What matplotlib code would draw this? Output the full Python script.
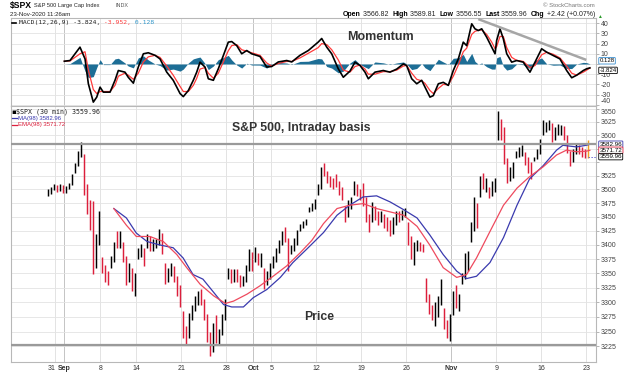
import matplotlib
matplotlib.use("Agg")
import matplotlib.pyplot as plt
from matplotlib.lines import Line2D
from matplotlib.ticker import FixedLocator, FixedFormatter, NullLocator
import numpy as np

plt.rcParams["font.family"] = ["Liberation Sans", "DejaVu Sans"]

# ---- price bars: 3 sub-bars per session, first session Aug 28 (day -1) ----
bar_hi = [3500, 3505, 3510,  3508, 3510, 3507,  3506, 3512, 3528,  3548, 3570, 3588,  3564, 3510, 3480,  3479, 3420, 3460,
          3379, 3365, 3355,  3380, 3405, 3424,  3425, 3405, 3380,  3368, 3360, 3350,
          3395, 3402, 3395,  3419, 3415, 3410,  3410, 3428, 3422,  3369, 3360, 3368,  3363, 3345, 3330,
          3285, 3260, 3282,  3295, 3310, 3320,  3323, 3305, 3280,  3250, 3265, 3278,  3255, 3280, 3306,
          3360, 3358, 3357,  3357, 3348, 3345,  3365, 3393, 3388,  3397, 3385, 3385,  3360, 3355, 3369,
          3380, 3395, 3409,  3425, 3432, 3412,  3400, 3412, 3426,  3438, 3442, 3447,  3468, 3475, 3482,
          3510, 3540, 3549,  3534, 3525, 3520,  3528, 3515, 3505,  3470, 3480, 3486,  3515, 3510, 3500,
          3512, 3485, 3455,  3476, 3470, 3460,  3461, 3455, 3450,  3445, 3450, 3460,  3460, 3462, 3466,
          3441, 3415, 3405,  3409, 3405, 3402,  3342, 3315, 3295,  3300, 3310, 3341,  3290, 3270, 3280,
          3320, 3330, 3315,  3350, 3385, 3389,  3440, 3486, 3475,  3525, 3529, 3520,  3505, 3515, 3521,
          3645, 3630, 3615,  3557, 3540, 3550,  3570, 3578, 3581,  3569, 3560, 3550,  3560, 3575, 3593,
          3628, 3625, 3628,  3623, 3615, 3620,  3619, 3618, 3600,  3570, 3575, 3585,  3581, 3578, 3575,
          3590]
bar_lo = [3488, 3492, 3498,  3495, 3496, 3493,  3494, 3500, 3508,  3530, 3543, 3560,  3490, 3455, 3427,  3349, 3360, 3400,
          3350, 3335, 3329,  3360, 3370, 3395,  3395, 3370, 3329,  3335, 3320, 3310,
          3375, 3378, 3363,  3395, 3390, 3389,  3395, 3400, 3384,  3331, 3335, 3345,  3335, 3310, 3292,
          3240, 3229, 3240,  3270, 3285, 3295,  3295, 3270, 3232,  3209, 3215, 3230,  3228, 3245, 3270,
          3340, 3333, 3335,  3335, 3327, 3328,  3335, 3355, 3355,  3370, 3365, 3361,  3323, 3330, 3340,
          3360, 3370, 3385,  3400, 3405, 3354,  3384, 3390, 3400,  3425, 3430, 3435,  3458, 3460, 3465,
          3489, 3500, 3525,  3512, 3505, 3500,  3505, 3490, 3481,  3441, 3450, 3465,  3490, 3488, 3480,
          3470, 3440, 3423,  3440, 3445, 3435,  3440, 3430, 3425,  3416, 3420, 3435,  3441, 3445, 3450,
          3400, 3375, 3364,  3390, 3390, 3388,  3300, 3280, 3269,  3259, 3275, 3295,  3255, 3240, 3234,
          3279, 3290, 3285,  3332, 3340, 3355,  3405, 3425, 3430,  3485, 3500, 3495,  3484, 3488, 3495,
          3590, 3590, 3547,  3511, 3515, 3520,  3557, 3560, 3562,  3545, 3530, 3518,  3552, 3555, 3565,
          3600, 3605, 3610,  3588, 3590, 3600,  3600, 3590, 3567,  3543, 3550, 3565,  3565, 3560, 3557,
          3557]
bar_cl = [3495, 3502, 3508,  3500, 3505, 3500,  3503, 3510, 3526,  3545, 3566, 3580,  3500, 3470, 3455,  3370, 3410, 3427,
          3355, 3345, 3331,  3375, 3400, 3398,  3400, 3375, 3339,  3350, 3330, 3341,
          3385, 3390, 3383,  3405, 3400, 3401,  3405, 3420, 3385,  3345, 3350, 3357,  3340, 3320, 3319,
          3250, 3245, 3281,  3290, 3300, 3315,  3300, 3275, 3237,  3225, 3255, 3246,  3250, 3275, 3298,
          3350, 3345, 3351,  3340, 3335, 3335,  3360, 3385, 3363,  3380, 3372, 3380,  3340, 3345, 3348,
          3375, 3390, 3408,  3420, 3410, 3361,  3395, 3405, 3419,  3435, 3440, 3446,  3462, 3472, 3477,
          3505, 3535, 3534,  3520, 3515, 3512,  3510, 3500, 3489,  3455, 3475, 3483,  3505, 3495, 3483,
          3480, 3450, 3427,  3465, 3450, 3443,  3450, 3440, 3436,  3425, 3440, 3453,  3450, 3455, 3465,
          3410, 3390, 3400,  3400, 3395, 3391,  3310, 3290, 3271,  3280, 3300, 3310,  3265, 3250, 3270,
          3300, 3295, 3310,  3345, 3370, 3370,  3430, 3470, 3443,  3510, 3505, 3510,  3490, 3505, 3510,
          3625, 3610, 3550,  3520, 3530, 3545,  3565, 3570, 3573,  3550, 3545, 3537,  3558, 3570, 3585,
          3615, 3620, 3627,  3600, 3610, 3610,  3615, 3595, 3567,  3555, 3570, 3582,  3575, 3570, 3558,
          3559.96]

# ---- moving averages (trading-day positions, Aug 31 = 0) ----
ma_t = [6.5, 7.9, 9.0, 10.2, 11.6, 13.1, 14.2, 15.3, 16.4, 17.6, 18.7, 19.6, 20.9, 22.0, 23.5, 25.0, 26.4, 27.9,
        29.8, 31.3, 32.7, 34.2, 35.7, 37.2, 38.7, 40.2, 41.6, 43.1, 44.6, 45.7, 46.8, 48.3, 49.8, 51.3, 52.7,
        54.2, 55.7, 56.4, 57.9, 59.0, 59.4]
ma_v = [3465, 3448, 3421, 3406, 3400, 3395, 3377, 3348, 3340, 3317, 3296, 3292, 3292, 3308, 3322, 3343, 3369, 3392,
        3422, 3453, 3471, 3486, 3488, 3477, 3463, 3448, 3418, 3383, 3354, 3341, 3345, 3369, 3413, 3471, 3519,
        3543, 3572, 3581, 3578, 3581, 3582.96]
ema_t = [6.5, 7.9, 9.0, 10.5, 12.0, 13.5, 14.6, 16.1, 17.6, 18.9, 19.8, 21.3, 22.7, 24.2, 25.7, 27.2, 28.5, 29.8,
         31.3, 32.7, 34.2, 35.7, 37.2, 38.7, 40.2, 41.6, 43.1, 44.6, 45.7, 46.8, 48.3, 49.8, 51.3, 52.7, 54.2,
         55.7, 56.8, 57.9, 59.0, 59.4]
ema_v = [3465, 3435, 3415, 3415, 3406, 3383, 3360, 3331, 3311, 3298, 3302, 3314, 3328, 3345, 3363, 3386, 3408, 3438,
         3465, 3471, 3474, 3465, 3459, 3453, 3433, 3400, 3360, 3343, 3348, 3377, 3424, 3471, 3502, 3523, 3541,
         3563, 3572, 3569, 3570, 3571.72]

# ---- MACD(12,26,9) ----
macd_t = [1.0, 1.63, 2.74, 3.3, 3.67, 4.22, 4.6, 4.97, 5.33, 6.08, 6.63, 7.0, 7.74, 8.1, 8.67, 9.22, 9.78,
          10.33, 11.08, 11.63, 12.38, 13.1, 13.86, 14.22, 14.78, 15.33, 15.71, 16.08, 16.63, 17.0, 17.56,
          18.11, 18.67, 19.22, 19.6, 20.16, 20.71, 21.27, 21.82, 22.74, 23.49, 24.04, 24.78, 25.71, 26.27,
          27.19, 28.11, 29.2, 29.6, 30.16, 30.71, 31.44, 32.0, 32.74, 33.3, 33.86, 34.41, 34.78, 35.52,
          36.44, 37.19, 37.93, 38.67, 39.04, 39.6, 40.16, 40.71, 41.08, 41.63, 42.0, 42.56, 43.11, 43.67,
          44.22, 44.78, 45.33, 45.71, 46.27, 46.63, 47.0, 47.38, 47.93, 48.49, 48.86, 49.04, 49.41, 49.78,
          50.16, 50.71, 51.27, 52.0, 52.74, 53.3, 54.04, 54.6, 55.33, 56.07, 56.82, 57.38, 57.93, 58.67,
          59.04, 59.4]
macd_v = [2.7, 3.4, 16.5, 5, -19.4, -37.4, -32.5, -22.7, -27.6, -27.6, -16, -6.4, -8, -13, -18.8, -3, 10,
          11, 8.5, 5, -8, -16, -29, -32, -26, -16, -8, 1.8, -3, -14.5, -16,
          -4.7, 8.3, 21.4, 22, 18, 10, 13.2, 10, 7.4, -3, -2.5, 2, 3.4, 2,
          8.5, 13.2, 21.4, 25, 16.5, 10, -4.7, -13, -7, 1.8, -1.5, -8, -14.5, -8,
          -6.4, -8, -5, 0, -1.5, -14.5, -19.4, -16, -22.7, -32.5, -31, -19.4, -18, -21,
          -6.4, 5, 21.4, 18, 39.4, 34.5, 32.8, 34.5, 26.3, 16.5, 10, 23, 34.5, 24.7,
          10, 1.8, 3.4, 1.8, -8, 1.8, 14.9, 11.6, 8.3, 5, -6.4, -13.5, -11, -6.4,
          -4.7, -3.824]
signal_v = [2.7, 3.0, 10, 12, -6, -25, -29, -27, -27, -27, -21, -12, -9, -11, -15, -9, 2,
            7, 8.5, 6.5, -2, -11, -22, -27, -27, -21, -14, -5, -3.5, -9, -14,
            -9, 2, 13, 18, 19, 14, 12.5, 11, 8.5, 1, -2, 0.5, 2.5, 2.5,
            6, 10.5, 16, 20, 19, 14, 4, -6, -8, -2.5, -1, -5, -10, -10,
            -7.5, -7.5, -6, -2, -1.5, -9, -15, -16.5, -19, -26, -29, -24, -20, -20.5,
            -12, -1, 12, 15.5, 29, 32, 33, 33.5, 29, 21.5, 15, 17, 27, 27,
            16, 6.5, 3.5, 2.5, -3.5, -1.5, 9, 11.5, 9.5, 6, -2, -9, -11, -8,
            -6, -3.952]

trend_t = [47.0, 59.0]
trend_v = [44.0, 4.0]
levels = [3583, 3227]

tick_days = [0, 1, 5, 9, 14, 19, 22, 24, 29, 34, 39, 44, 49, 54, 59]
tick_text = ["31", "Sep", "8", "14", "21", "28", "Oct", "5", "12", "19", "26", "Nov", "9", "16", "23"]
month_days = [1, 22, 44]

price_ticks = list(range(3225, 3651, 25))
macd_ticks = list(range(-40, 41, 10))
# labels hidden behind the value boxes on the right axis
hidden_price = [3575, 3550]
hidden_macd = [0]

# ---------------------------------------------------------------------------
W, H = 624, 372
fig = plt.figure(figsize=(W / 100, H / 100), dpi=100)
fig.patch.set_facecolor("white")


def box(x0, y0, x1, y1):
    return [x0 / W, 1 - y1 / H, (x1 - x0) / W, (y1 - y0) / H]


def px(x, y):
    return x / W, 1 - y / H


ax_m = fig.add_axes(box(10.7, 18.3, 596, 106))
ax_p = fig.add_axes(box(10.7, 106, 596, 362), sharex=ax_m)

red = "#dc1f3c"
grid_c = "#e3e3e3"

for ax in (ax_m, ax_p):
    for s in ax.spines.values():
        s.set_color("#b8b8b8")
        s.set_linewidth(0.8)
    ax.yaxis.tick_right()
    ax.tick_params(axis="y", length=2, width=0.5, color="#999999", labelsize=5, labelcolor="#444444", pad=1.5)
    for d in tick_days:
        ax.axvline(d, color="#c4c4c4" if d in month_days else grid_c, lw=0.7, zorder=0)

ax_m.set_xlim(-4.96, 60.08)

# ---- MACD panel ----
ax_m.set_ylim(-41.2, 44.8)
ax_m.yaxis.set_major_locator(FixedLocator(macd_ticks))
ax_m.yaxis.set_major_formatter(FixedFormatter(["" if v in hidden_macd else str(v) for v in macd_ticks]))
for v in macd_ticks:
    ax_m.axhline(v, color=grid_c, lw=0.6, zorder=0)
mt = np.array(macd_t)
hist = np.array(macd_v) - np.array(signal_v)
ax_m.fill_between(mt, hist, 0, color="#1d6e96", lw=0, zorder=2)
ax_m.plot(mt, signal_v, color="#ff3b3b", lw=0.9, zorder=3)
ax_m.plot(mt, macd_v, color="black", lw=1.2, zorder=4)
ax_m.plot(trend_t, trend_v, color="#a6a6a6", lw=1.8, zorder=5, solid_capstyle="butt")
ax_m.tick_params(axis="x", bottom=False, labelbottom=False)

for val, txt, ec, dy in [(0.128, "0.128", "#3a8fd0", 2.2), (-3.824, "-3.824", "black", -1.8)]:
    ax_m.annotate(txt, xy=(1, val), xycoords=("axes fraction", "data"), xytext=(2.5, dy),
                  textcoords="offset points", va="center", ha="left", fontsize=4.3, annotation_clip=False,
                  bbox=dict(boxstyle="round,pad=0.12", fc="white", ec=ec, lw=0.6), zorder=10)

# ---- price panel ----
ax_p.set_yscale("log")
ax_p.set_ylim(3199, 3655)
ax_p.yaxis.set_major_locator(FixedLocator(price_ticks))
ax_p.yaxis.set_major_formatter(FixedFormatter(["" if v in hidden_price else str(v) for v in price_ticks]))
ax_p.yaxis.set_minor_locator(NullLocator())
for v in price_ticks:
    ax_p.axhline(v, color=grid_c, lw=0.6, zorder=0)

# the "-40" and "3650" labels meet at the panel border: nudge them apart
fig.canvas.draw()
ax_m.get_yticklabels()[0].set_verticalalignment("bottom")
ax_p.get_yticklabels()[-1].set_verticalalignment("top")

n = len(bar_cl)
bt = np.array([-1 + j // 3 + (j % 3 + 0.5) / 3 for j in range(n)])
prev = [bar_cl[0]] + bar_cl[:-1]
cols = ["black" if c >= p else red for c, p in zip(bar_cl, prev)]
cols[-1] = "#f0a020"
ax_p.vlines(bt, bar_lo, bar_hi, colors=cols, lw=1.05, zorder=3)

ax_p.plot(ma_t, ma_v, color="#3a3aae", lw=0.9, zorder=4)
ax_p.plot(ema_t, ema_v, color="#ee4a5e", lw=0.9, zorder=4)
for lv in levels:
    ax_p.axhline(lv, color="#9a9a9a", lw=1.6, zorder=5)
ax_p.plot([bt[-1], 60.08], [bar_cl[-1], bar_cl[-1]], color="#6a6ad0", lw=0.7, ls=(0, (1.5, 1.5)), zorder=4)

for val, txt, ec in [(3582.96, "3582.96", "#3a3aae"), (3571.72, "3571.72", red), (3559.96, "3559.96", "black")]:
    ax_p.annotate(txt, xy=(1, val), xycoords=("axes fraction", "data"), xytext=(2.5, 0),
                  textcoords="offset points", va="center", ha="left", fontsize=4.5, annotation_clip=False,
                  bbox=dict(boxstyle="round,pad=0.12", fc="white", ec=ec, lw=0.6), zorder=10)

ax_p.xaxis.set_major_locator(FixedLocator(tick_days))
ax_p.xaxis.set_major_formatter(FixedFormatter(tick_text))
ax_p.tick_params(axis="x", length=0, labelsize=5, labelcolor="#333333", pad=2.5)
for lab in ax_p.get_xticklabels():
    if lab.get_text() in ("Sep", "Oct", "Nov"):
        lab.set_fontweight("bold")
    if lab.get_text() == "31":
        lab.set_horizontalalignment("right")

# ---- annotations ----
fig.text(*px(380, 36.5), "Momentum", fontsize=9, fontweight="bold", color="#333333", ha="center", va="center")
fig.text(*px(301, 128.5), "S&P 500, Intraday basis", fontsize=8.8, fontweight="bold", color="#333333",
         ha="center", va="center")
fig.text(*px(319, 317.5), "Price", fontsize=8.8, fontweight="bold", color="#333333", ha="center", va="center")

# ---- header ----
fig.text(*px(10, 5.5), "$SPX", fontsize=6.2, fontweight="bold", color="black", va="center")
fig.text(*px(33.5, 5.5), "S&P 500 Large Cap Index", fontsize=4.1, color="#222222", va="center")
fig.text(*px(115, 5.5), "INDX", fontsize=3.9, color="#555555", va="center")
fig.text(*px(10, 14.5), "23-Nov-2020 11:26am", fontsize=4.4, color="#222222", va="center")
fig.text(*px(595, 5.5), "\u00a9 StockCharts.com", fontsize=4.3, color="#777777", va="center", ha="right")

pieces = [("Open", "bold", "black"), (" 3566.82  ", "normal", "#222222"), ("High", "bold", "black"),
          (" 3589.81  ", "normal", "#222222"), ("Low", "bold", "black"), (" 3556.55  ", "normal", "#222222"),
          ("Last", "bold", "black"), (" 3559.96  ", "normal", "#222222"), ("Chg", "bold", "black"),
          (" +2.42 (+0.07%) ", "normal", "#222222"), ("\u25b2", "normal", "#2a9a2a")]
prev_t = fig.text(*px(343, 16.5), pieces[0][0], fontsize=5.0, fontweight=pieces[0][1], color=pieces[0][2],
                  va="baseline")
for txt, w, c in pieces[1:]:
    prev_t = ax_m.annotate(txt, xy=(1, 0), xycoords=prev_t, xytext=(0, 0), textcoords="offset points",
                           fontsize=5.0 if txt != "\u25b2" else 3.5, fontweight=w, color=c,
                           va="bottom", ha="left", annotation_clip=False)

# MACD legend
fig.add_artist(Line2D([12 / W, 16 / W], [1 - 22.5 / H] * 2, color="black", lw=1.2))
mono = "DejaVu Sans Mono"
prev_t = fig.text(*px(19, 22.5), "MACD(12,26,9) -3.824,", fontsize=4.6, family=mono, color="#222222",
                  va="center")
prev_t = ax_m.annotate(" -3.952,", xy=(1, 0), xycoords=prev_t, xytext=(0, 0), textcoords="offset points",
                       fontsize=4.6, family=mono, color="#ff3b3b", va="bottom", annotation_clip=False)
ax_m.annotate(" 0.128", xy=(1, 0), xycoords=prev_t, xytext=(0, 0), textcoords="offset points",
              fontsize=4.6, family=mono, color="#3399cc", va="bottom", annotation_clip=False)

# price legend
fig.text(*px(11.5, 111.5), "\u25aa", fontsize=5, color="black", va="center", family="DejaVu Sans")
fig.text(*px(16, 111.5), "$SPX (30 min) 3559.96", fontsize=4.8, family=mono, color="#222222", va="center")
fig.add_artist(Line2D([12 / W, 17 / W], [1 - 118.3 / H] * 2, color="#3a3aae", lw=0.9))
fig.text(*px(18, 118.3), "MA(98) 3582.96", fontsize=4.3, color="#3a3aae", va="center")
fig.add_artist(Line2D([12 / W, 17 / W], [1 - 125 / H] * 2, color=red, lw=0.9))
fig.text(*px(18, 125), "EMA(98) 3571.72", fontsize=4.3, color=red, va="center")

fig.savefig("out.png", dpi=100)
